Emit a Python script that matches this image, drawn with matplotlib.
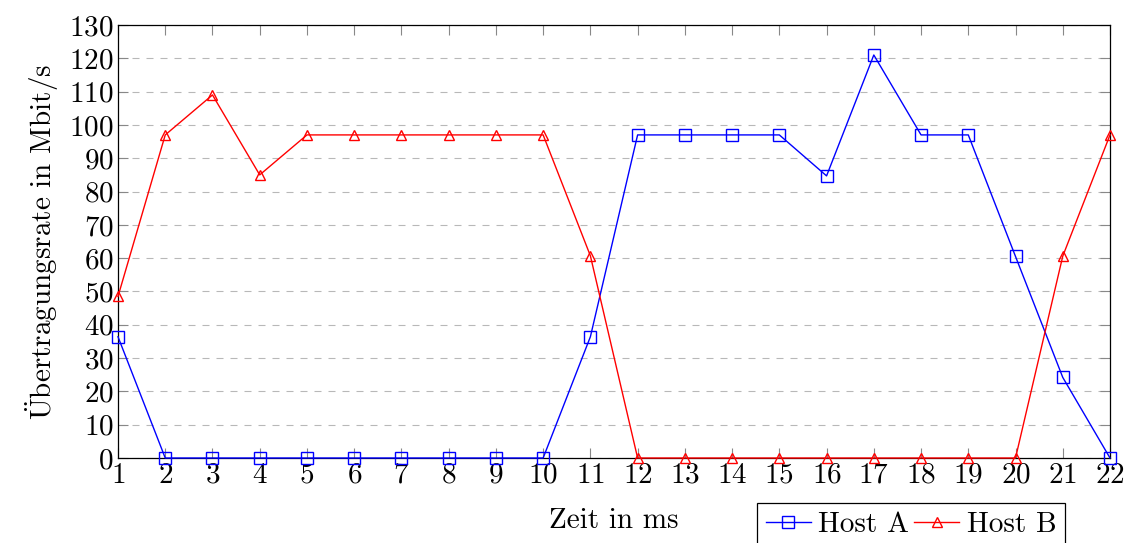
import matplotlib
matplotlib.use('Agg')
import matplotlib.pyplot as plt

plt.rcParams['font.family'] = ['cmr10', 'DejaVu Serif']
plt.rcParams['mathtext.fontset'] = 'cm'
plt.rcParams['axes.formatter.use_mathtext'] = True

zeit = list(range(1, 23))
host_a = [36.4, 0, 0, 0, 0, 0, 0, 0, 0, 0, 36.4, 97, 97, 97, 97, 84.7, 121, 97, 97, 60.5, 24.2, 0]
host_b = [48.5, 97, 109, 85, 97, 97, 97, 97, 97, 97, 60.7, 0, 0, 0, 0, 0, 0, 0, 0, 0, 60.6, 97]
y_ticks = list(range(0, 131, 10))

fig = plt.figure(figsize=(11.29, 5.43), dpi=100)
ax = fig.add_axes([118/1129, 85/543, 992/1129, 433/543])

la, = ax.plot(zeit, host_a, color='blue', lw=1, marker='s', ms=8, mfc='none', mec='blue', mew=1, clip_on=False, zorder=3)
lb, = ax.plot(zeit, host_b, color='red', lw=1, marker='^', ms=6.5, mfc='none', mec='red', mew=1, clip_on=False, zorder=3)

ax.set_xlim(1, 22)
ax.set_ylim(0, 130)
ax.set_xticks(zeit)
ax.set_yticks(y_ticks)
ax.yaxis.grid(True, linestyle=(0, (6.3, 6.3)), color='#b8b8b8', lw=0.8)
ax.set_axisbelow(True)
ax.tick_params(axis='both', direction='in', length=7.5, width=0.8, color='#888888',
               top=True, right=True, labelsize=21, pad=3)
for s in ax.spines.values():
    s.set_linewidth(0.9)

ax.set_xlabel('Zeit in ms', fontsize=21, labelpad=14)
ax.set_ylabel(r'$\ddot{\mathrm{U}}$bertragungsrate in Mbit/s', fontsize=21, labelpad=6)

leg = fig.legend([la, lb], ['Host A', 'Host B'], loc='upper left',
                 bbox_to_anchor=(757/1129, 1 - 503/543), ncol=2, fontsize=21,
                 frameon=True, fancybox=False, edgecolor='black', framealpha=1,
                 handlelength=1.55, handletextpad=0.25, columnspacing=0.17,
                 borderpad=0.3, borderaxespad=0)
leg.get_frame().set_linewidth(0.9)

fig.savefig('out.png', dpi=100)
